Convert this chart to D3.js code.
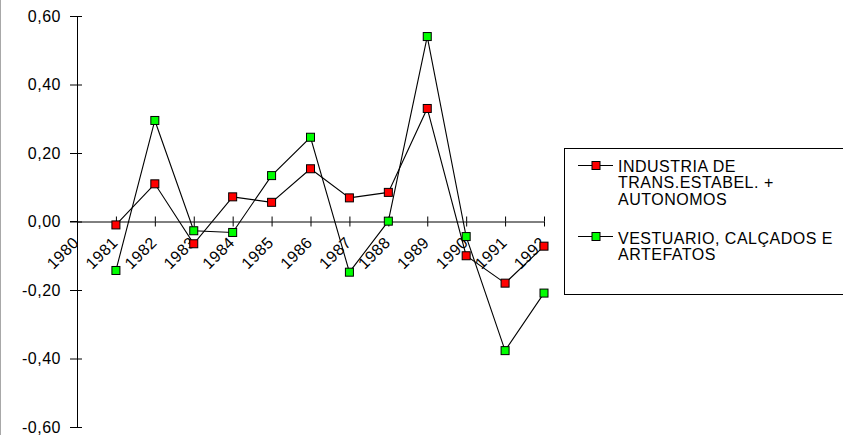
<!DOCTYPE html>
<html>
<head>
<meta charset="utf-8">
<script src="https://cdn.jsdelivr.net/npm/d3@7"></script>
<style>
  html, body { margin: 0; padding: 0; background: #fff; }
  svg { display: block; }
  text { font-family: "Liberation Sans", Arial, sans-serif; font-size: 16px; letter-spacing: 0.5px; fill: #000; }
</style>
</head>
<body>
<script>
// ---- data ----
const years = [1981, 1982, 1983, 1984, 1985, 1986, 1987, 1988, 1989, 1990, 1991, 1992];
const industria = [-0.01, 0.11, -0.065, 0.072, 0.056, 0.154, 0.069, 0.085, 0.33, -0.10, -0.18, -0.072];
const vestuario = [-0.143, 0.295, -0.027, -0.032, 0.134, 0.246, -0.148, 0.001, 0.54, -0.044, -0.377, -0.209];
const xTickYears = [1980, 1981, 1982, 1983, 1984, 1985, 1986, 1987, 1988, 1989, 1990, 1991, 1992];
const yTicks = [-0.6, -0.4, -0.2, 0, 0.2, 0.4, 0.6];
const seriesNames = [["INDUSTRIA DE", "TRANS.ESTABEL. +", "AUTONOMOS"], ["VESTUARIO, CALÇADOS E", "ARTEFATOS"]];
const seriesColors = ["#ff0000", "#00ff00"];

const W = 843, H = 437;
const svg = d3.select("body").append("svg").attr("width", W).attr("height", H);

const x = d3.scaleLinear().domain([1980, 1992]).range([77, 544]);
const y = d3.scaleLinear().domain([-0.6, 0.6]).range([427, 16]);
const loc = d3.formatLocale({decimal: ",", thousands: ".", grouping: [3], currency: ["", ""], minus: "-"});
const fmt = loc.format(".2f");

// left border line
svg.append("line").attr("x1", 0.5).attr("x2", 0.5).attr("y1", 0).attr("y2", 435)
  .attr("stroke", "#a8a8a8").attr("stroke-width", 1);

// Y axis (outer ticks + labels)
const yAxisL = svg.append("g").attr("transform", `translate(${x(1980)},0)`)
  .call(d3.axisLeft(y).tickValues(yTicks).tickSize(7).tickSizeOuter(0).tickPadding(9).tickFormat(fmt));
yAxisL.select(".domain").attr("stroke", "#000");
yAxisL.selectAll(".tick line").attr("stroke", "#000");
yAxisL.selectAll(".tick text").attr("font-family", null).attr("font-size", null).attr("dy", "0.34em");
// inner ticks
const yAxisR = svg.append("g").attr("transform", `translate(${x(1980)},0)`)
  .call(d3.axisRight(y).tickValues(yTicks).tickSize(5).tickSizeOuter(0).tickFormat(""));
yAxisR.select(".domain").remove();
yAxisR.selectAll(".tick line").attr("stroke", "#000");

// X axis at zero
const xAxisB = svg.append("g").attr("transform", `translate(0,${y(0)})`)
  .call(d3.axisBottom(x).tickValues(xTickYears).tickSize(5).tickSizeOuter(0).tickFormat(""));
xAxisB.select(".domain").attr("stroke", "#000");
xAxisB.selectAll(".tick line").attr("stroke", "#000");
const xAxisT = svg.append("g").attr("transform", `translate(0,${y(0)})`)
  .call(d3.axisTop(x).tickValues(xTickYears).tickSize(5).tickSizeOuter(0).tickFormat(""));
xAxisT.select(".domain").remove();
xAxisT.selectAll(".tick line").attr("stroke", "#000");
// horizontal stub left of y-axis at zero
svg.append("line").attr("x1", 70).attr("x2", x(1980)).attr("y1", y(0)).attr("y2", y(0)).attr("stroke", "#000");

// X labels rotated
svg.append("g").selectAll("text").data(xTickYears).join("text")
  .attr("text-anchor", "end")
  .attr("transform", d => `translate(${x(d) + 3},${y(0) + 22}) rotate(-45)`)
  .text(d => d);

// series
const allSeries = [industria, vestuario];
const line = d3.line().x((d, i) => x(years[i])).y(d => y(d));
allSeries.forEach((vals, si) => {
  const g = svg.append("g");
  g.append("path").attr("d", line(vals)).attr("fill", "none").attr("stroke", "#000").attr("stroke-width", 1.1);
  g.selectAll("rect").data(vals).join("rect")
    .attr("x", (d, i) => x(years[i]) - 4).attr("y", d => y(d) - 4)
    .attr("width", 8).attr("height", 8)
    .attr("fill", seriesColors[si]).attr("stroke", "#000").attr("stroke-width", 1);
});

// legend
const lg = svg.append("g");
lg.append("rect").attr("x", 564.5).attr("y", 148.5).attr("width", 300).attr("height", 146)
  .attr("fill", "none").attr("stroke", "#000").attr("stroke-width", 1);
const legendMarkY = [165.5, 236.5];
const legendBase = [[171.5, 188, 204.5], [243.5, 260]];
seriesNames.forEach((lines, si) => {
  lg.append("line").attr("x1", 578).attr("x2", 613).attr("y1", legendMarkY[si]).attr("y2", legendMarkY[si])
    .attr("stroke", "#000").attr("stroke-width", 1.1);
  lg.append("rect").attr("x", 592).attr("y", legendMarkY[si] - 4).attr("width", 8).attr("height", 8)
    .attr("fill", seriesColors[si]).attr("stroke", "#000");
  lines.forEach((t, li) => {
    lg.append("text").attr("x", 618).attr("y", legendBase[si][li]).text(t);
  });
});
</script>
</body>
</html>
